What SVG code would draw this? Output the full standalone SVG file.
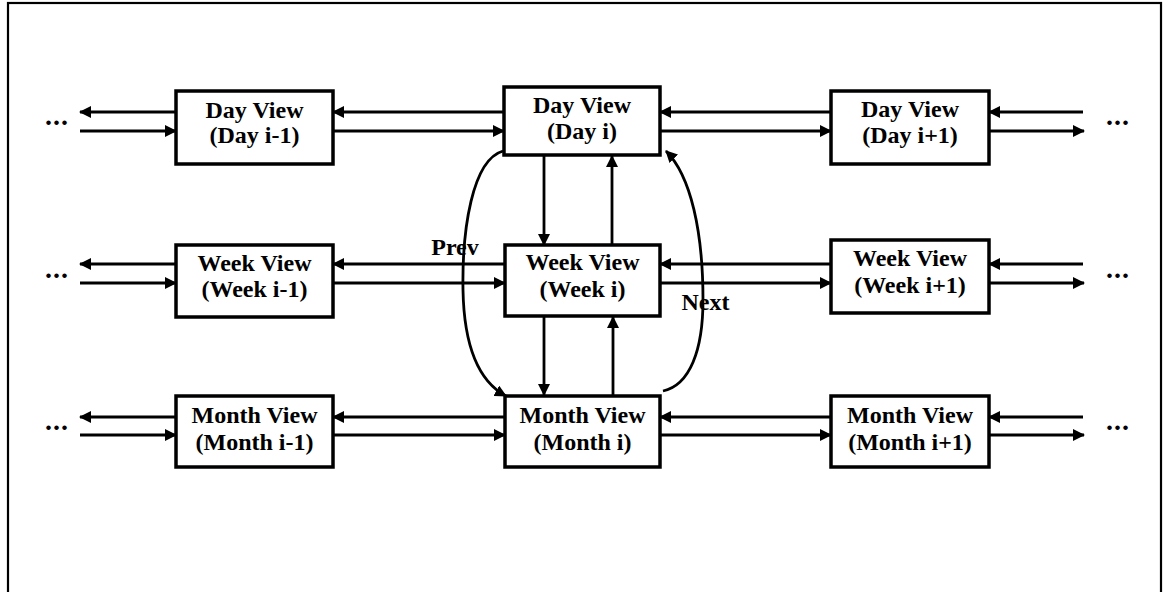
<svg xmlns="http://www.w3.org/2000/svg" width="1165" height="592" viewBox="0 0 1165 592">
  <style>
    .box { fill: #fff; stroke: #000; stroke-width: 3.5; }
    .lbl { font-family: "Liberation Serif", "Times New Roman", serif; font-weight: bold; font-size: 24px; fill: #000; text-anchor: middle; }
    .dots { font-family: "Liberation Serif", "Times New Roman", serif; font-weight: bold; font-size: 28px; fill: #000; text-anchor: middle; letter-spacing: 1px; }
    .wire { fill: none; stroke: #000; stroke-width: 2.8; marker-end: url(#head); }
  </style>
  <defs>
    <marker id="head" markerUnits="userSpaceOnUse" markerWidth="12" markerHeight="12" refX="11" refY="6" orient="auto">
      <path d="M0,0 L12,6 L0,12 Z" fill="#000"/>
    </marker>
  </defs>
  <rect width="1165" height="592" fill="#fff"/>
  <!-- frame (bottom edge runs off the page) -->
  <rect x="8" y="3" width="1153" height="600" fill="none" stroke="#000" stroke-width="2.2"/>

  <g id="connectors">
    <!-- day row -->
    <line class="wire" x1="176" y1="112" x2="80" y2="112"/>
    <line class="wire" x1="80" y1="131" x2="176" y2="131"/>
    <line class="wire" x1="504" y1="112" x2="333" y2="112"/>
    <line class="wire" x1="333" y1="131" x2="504" y2="131"/>
    <line class="wire" x1="831" y1="112" x2="660" y2="112"/>
    <line class="wire" x1="660" y1="131" x2="831" y2="131"/>
    <line class="wire" x1="1083" y1="112" x2="989" y2="112"/>
    <line class="wire" x1="989" y1="131" x2="1084" y2="131"/>
    <!-- week row -->
    <line class="wire" x1="176" y1="264" x2="80" y2="264"/>
    <line class="wire" x1="80" y1="283" x2="176" y2="283"/>
    <line class="wire" x1="505" y1="264" x2="333" y2="264"/>
    <line class="wire" x1="333" y1="283" x2="505" y2="283"/>
    <line class="wire" x1="831" y1="264" x2="660" y2="264"/>
    <line class="wire" x1="660" y1="283" x2="831" y2="283"/>
    <line class="wire" x1="1083" y1="264" x2="989" y2="264"/>
    <line class="wire" x1="989" y1="283" x2="1084" y2="283"/>
    <!-- month row -->
    <line class="wire" x1="176" y1="417" x2="80" y2="417"/>
    <line class="wire" x1="80" y1="435" x2="176" y2="435"/>
    <line class="wire" x1="505" y1="417" x2="333" y2="417"/>
    <line class="wire" x1="333" y1="435" x2="505" y2="435"/>
    <line class="wire" x1="831" y1="417" x2="660" y2="417"/>
    <line class="wire" x1="660" y1="435" x2="831" y2="435"/>
    <line class="wire" x1="1083" y1="417" x2="989" y2="417"/>
    <line class="wire" x1="989" y1="435" x2="1084" y2="435"/>
    <!-- vertical links in the centre column -->
    <line class="wire" x1="544" y1="155" x2="544" y2="245"/>
    <line class="wire" x1="612" y1="245" x2="612" y2="156"/>
    <line class="wire" x1="544" y1="316" x2="544" y2="395"/>
    <line class="wire" x1="613" y1="395" x2="613" y2="317"/>
    <!-- prev / next curves -->
    <path class="wire" d="M503,151 C472,160 462,230 463,290 C464,345 478,381 506,396"/>
    <path class="wire" d="M663,391 C690,385 703,350 703,300 C703,232 691,176 666,151"/>
  </g>

  <g id="day-prev">
    <rect class="box" x="176" y="91" width="157" height="73"/>
    <text class="lbl" x="254.5" y="118">Day View</text>
    <text class="lbl" x="254.5" y="143">(Day i-1)</text>
  </g>
  <g id="day-cur">
    <rect class="box" x="504" y="87" width="156" height="68"/>
    <text class="lbl" x="582" y="113">Day View</text>
    <text class="lbl" x="582" y="139">(Day i)</text>
  </g>
  <g id="day-next">
    <rect class="box" x="831" y="91" width="158" height="73"/>
    <text class="lbl" x="910" y="117">Day View</text>
    <text class="lbl" x="910" y="143">(Day i+1)</text>
  </g>

  <g id="week-prev">
    <rect class="box" x="176" y="245" width="157" height="72"/>
    <text class="lbl" x="254.5" y="271">Week View</text>
    <text class="lbl" x="254.5" y="297">(Week i-1)</text>
  </g>
  <g id="week-cur">
    <rect class="box" x="505" y="245" width="155" height="71"/>
    <text class="lbl" x="582.5" y="270">Week View</text>
    <text class="lbl" x="582.5" y="297">(Week i)</text>
  </g>
  <g id="week-next">
    <rect class="box" x="831" y="240" width="158" height="73"/>
    <text class="lbl" x="910" y="266">Week View</text>
    <text class="lbl" x="910" y="293">(Week i+1)</text>
  </g>

  <g id="month-prev">
    <rect class="box" x="176" y="396" width="157" height="71"/>
    <text class="lbl" x="254.5" y="423">Month View</text>
    <text class="lbl" x="254.5" y="450">(Month i-1)</text>
  </g>
  <g id="month-cur">
    <rect class="box" x="505" y="396" width="155" height="71"/>
    <text class="lbl" x="582.5" y="423">Month View</text>
    <text class="lbl" x="582.5" y="450">(Month i)</text>
  </g>
  <g id="month-next">
    <rect class="box" x="831" y="396" width="158" height="71"/>
    <text class="lbl" x="910" y="423">Month View</text>
    <text class="lbl" x="910" y="450">(Month i+1)</text>
  </g>

  <g id="labels">
    <text class="lbl" x="455" y="255">Prev</text>
    <text class="lbl" x="705.5" y="310">Next</text>
    <text class="dots" x="57" y="125">...</text>
    <text class="dots" x="57" y="278">...</text>
    <text class="dots" x="57" y="430">...</text>
    <text class="dots" x="1118" y="125">...</text>
    <text class="dots" x="1118" y="278">...</text>
    <text class="dots" x="1118" y="430">...</text>
  </g>
</svg>
